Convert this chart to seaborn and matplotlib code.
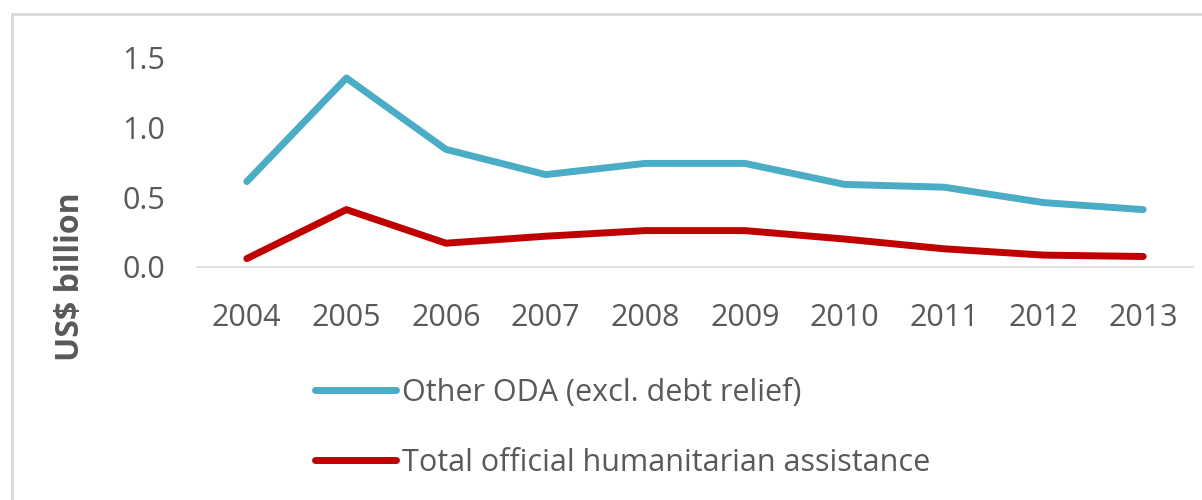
import pandas as pd
import matplotlib.pyplot as plt
import seaborn as sns
from matplotlib.patches import Rectangle

years = ['2004', '2005', '2006', '2007', '2008', '2009', '2010', '2011', '2012', '2013']
other_oda = [0.61, 1.35, 0.84, 0.66, 0.74, 0.74, 0.59, 0.57, 0.46, 0.41]
humanitarian = [0.06, 0.41, 0.17, 0.22, 0.26, 0.26, 0.20, 0.13, 0.085, 0.075]

series_names = ['Other ODA (excl. debt relief)', 'Total official humanitarian assistance']
series_colors = ['#4BACC6', '#C00000']

df = pd.DataFrame({
    'year': years * 2,
    'value': other_oda + humanitarian,
    'series': [series_names[0]] * len(years) + [series_names[1]] * len(years),
})

sns.set_style('white')
plt.rcParams['font.family'] = ['Open Sans', 'DejaVu Sans']

fig = plt.figure(figsize=(12.02, 5), dpi=100)
ax = fig.add_axes([197 / 1202, 1 - 267 / 500, (1193 - 197) / 1202, 210 / 500])

sns.lineplot(data=df, x='year', y='value', hue='series', palette=series_colors,
             linewidth=5, ax=ax, sort=False, solid_capstyle='round')

ax.set_xlim(-0.5, len(years) - 0.5)
ax.set_ylim(0, 1.5)
ax.set_yticks([0, 0.5, 1.0, 1.5])
ax.set_yticklabels(['0.0', '0.5', '1.0', '1.5'])
ax.tick_params(axis='both', labelsize=22, colors='#595959', length=0)
ax.tick_params(axis='y', pad=23)
ax.tick_params(axis='x', pad=26)
ax.set_xlabel('')
ax.set_ylabel('')
for s in ['top', 'left', 'right']:
    ax.spines[s].set_visible(False)
ax.spines['bottom'].set_color('#D9D9D9')
ax.spines['bottom'].set_linewidth(1.2)
ax.patch.set_alpha(0)

fig.text(71 / 1202, 1 - 277 / 500, 'US$ billion', rotation=90, ha='center', va='center',
         fontsize=23, fontweight='bold', color='#595959')

handles, labels = ax.get_legend_handles_labels()
ax.legend(handles, labels, loc='upper left', bbox_to_anchor=(315 / 1202, 1 - 378 / 500),
          bbox_transform=fig.transFigure, frameon=False, fontsize=22, labelcolor='#595959',
          handlelength=2.65, handletextpad=0.2, labelspacing=1.3, borderpad=0, borderaxespad=0)

fig.add_artist(Rectangle((12 / 1202, -0.1), 1.2, 1 - 14 / 500 + 0.1, transform=fig.transFigure,
                         fill=False, edgecolor='#D9D9D9', linewidth=2))

fig.savefig('out.png', dpi=100)
